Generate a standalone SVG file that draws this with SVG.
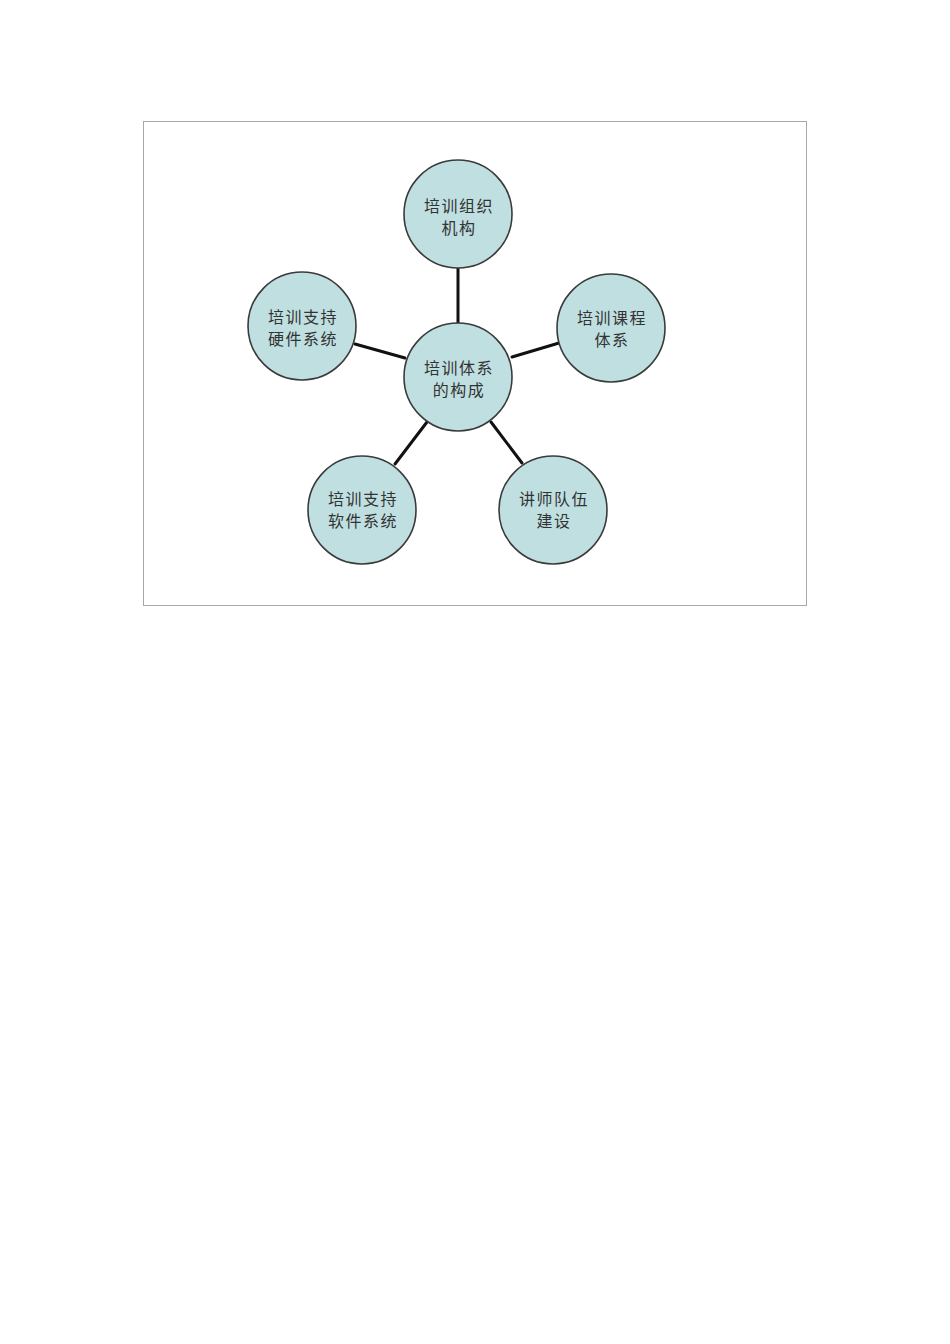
<svg xmlns="http://www.w3.org/2000/svg" width="950" height="1344" viewBox="0 0 950 1344">
<style>
.n{fill:#bfdfe1;stroke:#3a3a3a;stroke-width:1.6}
.t{font-family:"Noto Sans CJK SC","Noto Sans CJK JP",sans-serif;font-size:16px;letter-spacing:1.5px;fill:#333;text-anchor:middle}
.c{stroke:#111;stroke-width:3;stroke-linecap:round}
</style>
<rect width="950" height="1344" fill="#fff"/>
<rect x="143.5" y="121.5" width="663" height="484" fill="#fff" stroke="#a8a8a8" stroke-width="1"/>
<g id="connectors">
<line class="c" x1="458" y1="268" x2="458" y2="323"/>
<line class="c" x1="355" y1="344" x2="405" y2="358"/>
<line class="c" x1="512" y1="357" x2="559" y2="343"/>
<line class="c" x1="427" y1="422" x2="395" y2="464"/>
<line class="c" x1="491" y1="422" x2="522" y2="463"/>
</g>
<g id="center"><circle class="n" cx="458" cy="377" r="54"/><text class="t" x="459" y="374">培训体系</text><text class="t" x="459" y="396">的构成</text></g>
<g id="top"><circle class="n" cx="458" cy="214" r="54"/><text class="t" x="459" y="212">培训组织</text><text class="t" x="459" y="234">机构</text></g>
<g id="left"><circle class="n" cx="302" cy="326" r="54"/><text class="t" x="303" y="323">培训支持</text><text class="t" x="303" y="345">硬件系统</text></g>
<g id="right"><circle class="n" cx="611" cy="328" r="54"/><text class="t" x="612" y="324">培训课程</text><text class="t" x="612" y="346">体系</text></g>
<g id="bottomleft"><circle class="n" cx="362" cy="510" r="54"/><text class="t" x="363" y="505">培训支持</text><text class="t" x="363" y="527">软件系统</text></g>
<g id="bottomright"><circle class="n" cx="553" cy="510" r="54"/><text class="t" x="554" y="505">讲师队伍</text><text class="t" x="554" y="527">建设</text></g>
</svg>
